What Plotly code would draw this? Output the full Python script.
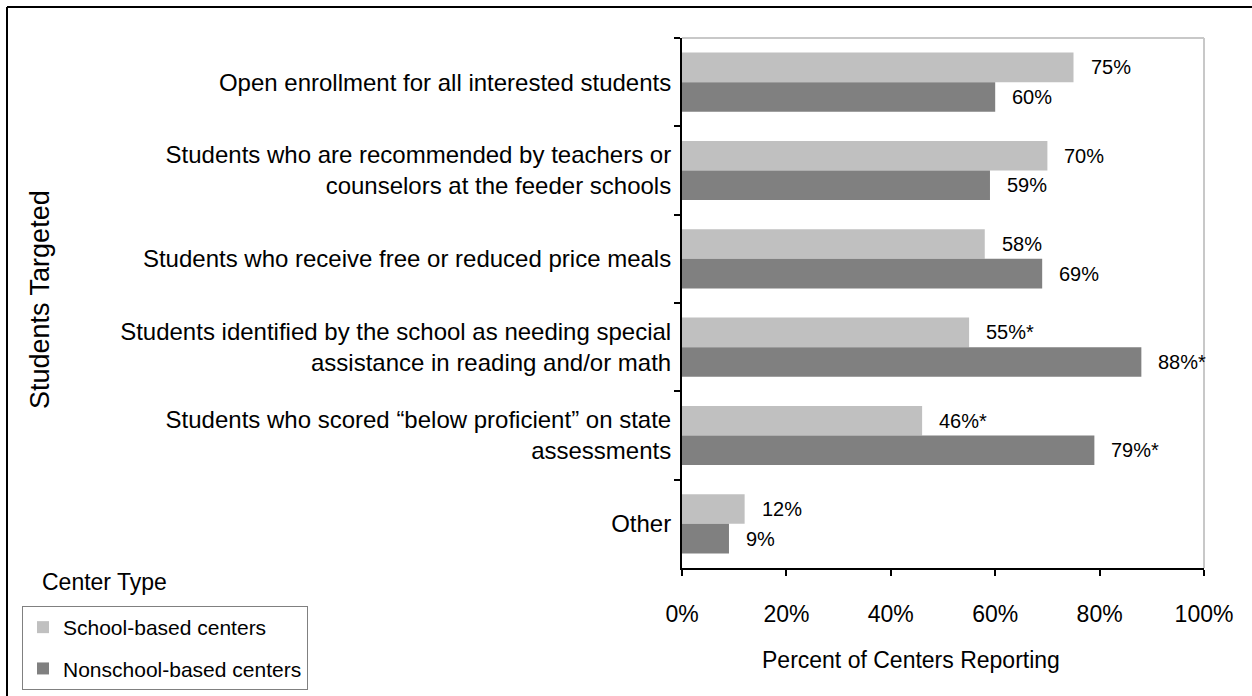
import plotly.graph_objects as go

# Survey categories (top to bottom) and results by center type
categories = [
    "Open enrollment for all interested students",
    "Students who are recommended by teachers or<br>counselors at the feeder schools",
    "Students who receive free or reduced price meals",
    "Students identified by the school as needing special<br>assistance in reading and/or math",
    "Students who scored \u201cbelow proficient\u201d on state<br>assessments",
    "Other",
]
school_based = [75, 70, 58, 55, 46, 12]
nonschool_based = [60, 59, 69, 88, 79, 9]
# statistically significant differences are flagged with an asterisk
significant = [False, False, False, True, True, False]
x_ticks = [0, 20, 40, 60, 80, 100]

series = [
    ("School-based centers", school_based, "#c0c0c0"),
    ("Nonschool-based centers", nonschool_based, "#808080"),
]

W, H = 1252, 696
L, R, T, B = 682, 48, 38, 128
PW, PH = W - L - R, H - T - B
FONT = "Arial, Liberation Sans, sans-serif"


def px_x(x):
    return (x - L) / PW


def px_y(y):
    return (H - B - y) / PH


fig = go.Figure()
for i, (name, vals, color) in enumerate(series):
    fig.add_trace(go.Bar(
        name=name, y=categories, x=vals, orientation="h",
        marker=dict(color=color, line=dict(width=0)),
        legendgroup=f"g{i}", hoverinfo="skip",
    ))

bargap = 0.33
bar_px = PH / len(categories) * (1 - bargap) / 2
annotations = []
for i, (name, vals, color) in enumerate(series):
    shift = bar_px / 2 if i == 0 else -bar_px / 2
    for cat, v, sig in zip(categories, vals, significant):
        annotations.append(dict(
            x=v, y=cat, xref="x", yref="y", text=f"{v}%" + ("*" if sig else ""),
            showarrow=False, xanchor="left", yanchor="middle",
            xshift=15, yshift=shift, font=dict(size=20, color="#000000", family=FONT),
        ))

annotations += [
    dict(x=px_x(40), y=px_y(300), xref="paper", yref="paper", text="Students Targeted",
         textangle=-90, showarrow=False, xanchor="center", yanchor="middle",
         font=dict(size=27, color="#000000", family=FONT)),
    dict(x=px_x(911), y=px_y(660), xref="paper", yref="paper",
         text="Percent of Centers Reporting", showarrow=False,
         xanchor="center", yanchor="middle",
         font=dict(size=23, color="#000000", family=FONT)),
    dict(x=px_x(40), y=px_y(582), xref="paper", yref="paper", text="Center Type",
         showarrow=False, xanchor="left", yanchor="middle",
         font=dict(size=23, color="#000000", family=FONT)),
]

shapes = [
    # outer frame (top and left edges)
    dict(type="line", xref="paper", yref="paper", x0=px_x(7), x1=px_x(W + 10),
         y0=px_y(7), y1=px_y(7), line=dict(color="#000000", width=2)),
    dict(type="line", xref="paper", yref="paper", x0=px_x(7), x1=px_x(7),
         y0=px_y(7), y1=px_y(H + 10), line=dict(color="#000000", width=2)),
    # light plot-area frame (top and right)
    dict(type="line", xref="paper", yref="paper", x0=0, x1=1, y0=1, y1=1,
         line=dict(color="#c8c8c8", width=2)),
    dict(type="line", xref="paper", yref="paper", x0=1, x1=1, y0=0, y1=1,
         line=dict(color="#c8c8c8", width=2)),
]

fig.update_layout(
    width=W, height=H,
    margin=dict(l=L, r=R, t=T, b=B, autoexpand=False),
    paper_bgcolor="#ffffff", plot_bgcolor="#ffffff",
    barmode="group", bargap=bargap, bargroupgap=0,
    font=dict(family=FONT, color="#000000"),
    showlegend=True,
    legend=dict(
        xref="container", yref="container",
        x=22 / W, y=1 - 606 / H, xanchor="left", yanchor="top",
        bordercolor="#808080", borderwidth=1, bgcolor="#ffffff",
        font=dict(size=21, color="#000000", family=FONT),
        traceorder="grouped", tracegroupgap=11,
    ),
    xaxis=dict(
        range=[0, 100], tickvals=x_ticks, ticktext=[f"{t}%" for t in x_ticks],
        showgrid=False, zeroline=False, showline=True, linecolor="#000000", linewidth=2,
        ticks="outside", ticklen=6, tickwidth=2, tickcolor="#000000",
        tickfont=dict(size=23, color="#000000", family=FONT),
        ticklabelstandoff=18, automargin=False,
    ),
    yaxis=dict(
        autorange="reversed", type="category",
        showgrid=False, zeroline=False, showline=True, linecolor="#000000", linewidth=2,
        ticks="outside", ticklen=6, tickwidth=2, tickcolor="#000000",
        tickson="boundaries",
        tickfont=dict(size=24, color="#000000", family=FONT),
        ticklabelstandoff=4, automargin=False,
    ),
    annotations=annotations,
    shapes=shapes,
)

fig.write_html("out.html")
